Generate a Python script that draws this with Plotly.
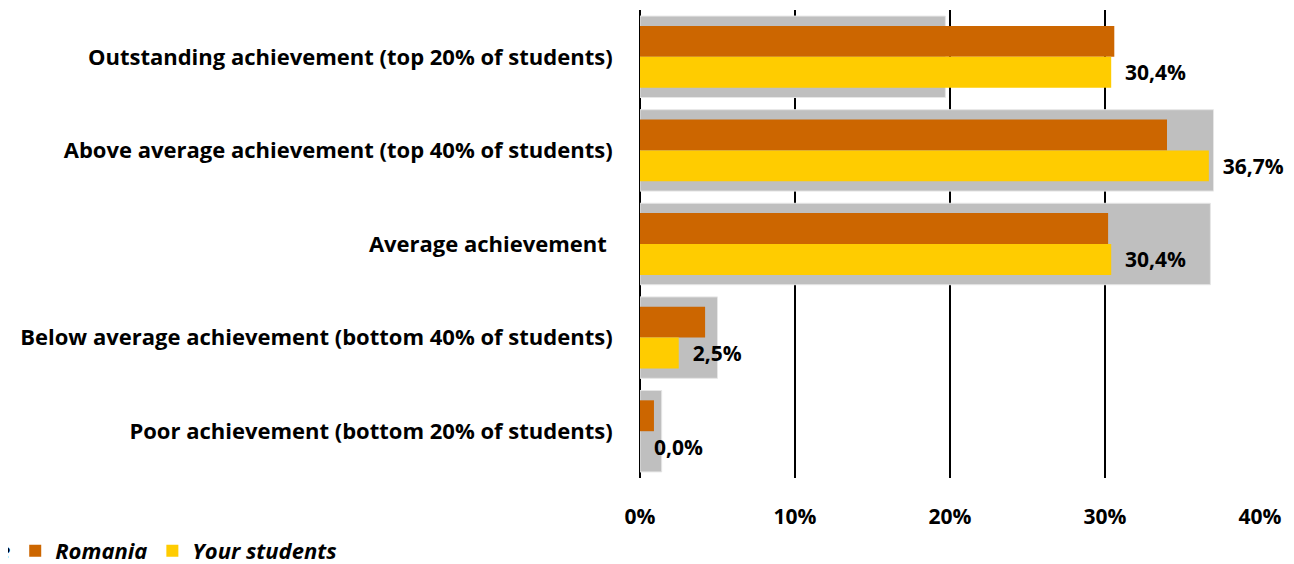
import plotly.graph_objects as go

categories = [
    "Outstanding achievement (top 20% of students)",
    "Above average achievement (top 40% of students)",
    "Average achievement ",
    "Below average achievement (bottom 40% of students)",
    "Poor achievement (bottom 20% of students)",
]
international_avg = [19.7, 37.0, 36.8, 5.0, 1.4]
romania = [30.6, 34.0, 30.2, 4.2, 0.9]
your_students = [30.4, 36.7, 30.4, 2.5, 0.0]
x_ticks = [0, 10, 20, 30, 40]
x_ticklabels = ["0%", "10%", "20%", "30%", "40%"]

FONT = "Open Sans"
fs = 22

fig = go.Figure()
fig.add_trace(go.Bar(
    y=categories, x=international_avg, orientation="h",
    name="International average", marker=dict(color="#BFBFBF", line=dict(width=1, color="#E6E6E6")),
    width=0.87, offset=-0.435,
))
fig.add_trace(go.Bar(
    y=categories, x=romania, orientation="h",
    name="Romania", marker=dict(color="#CC6600", line=dict(width=0)),
    width=0.33, offset=-0.33,
))
fig.add_trace(go.Bar(
    y=categories, x=your_students, orientation="h",
    name="Your students", marker=dict(color="#FFCC00", line=dict(width=0)),
    width=0.33, offset=0.0,
    texttemplate="\u00a0\u00a0%{x:.1f}%", textposition="outside",
    textfont=dict(family=FONT, size=21, color="black", weight="bold"),
    constraintext="none", cliponaxis=False,
))

fig.update_layout(
    width=1286, height=556,
    barmode="overlay",
    separators=",.",
    paper_bgcolor="white", plot_bgcolor="white",
    margin=dict(l=632, r=34, t=2, b=86, autoexpand=False),
    font=dict(family=FONT, size=fs, color="black", weight="bold"),
    showlegend=True,
    legend=dict(
        orientation="h", xref="paper", yref="paper",
        x=-1.447, xanchor="left", y=-0.156, yanchor="middle",
        font=dict(family=FONT, size=fs, color="black", style="italic", weight="bold"),
        bgcolor="rgba(0,0,0,0)",
    ),
)
fig.update_xaxes(
    range=[0, 40], tickvals=x_ticks, ticktext=x_ticklabels,
    showgrid=True, gridcolor="black", gridwidth=1.5,
    zeroline=True, zerolinecolor="black", zerolinewidth=1.5,
    showline=False, ticks="outside", ticklen=20, tickcolor="rgba(0,0,0,0)",
    tickfont=dict(family=FONT, size=21, color="black", weight="bold"),
)
fig.update_yaxes(
    autorange="reversed", showgrid=False, showline=False,
    ticks="outside", ticklen=22, tickcolor="rgba(0,0,0,0)",
    tickfont=dict(family=FONT, size=fs, color="black", weight="bold"),
)

fig.write_html("out.html")
